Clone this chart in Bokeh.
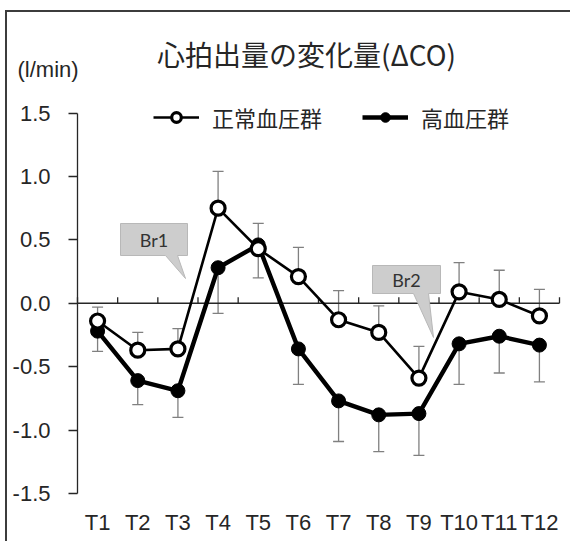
from bokeh.plotting import figure
from bokeh.models import (ColumnDataSource, FixedTicker, Label, Legend, LegendItem,
                          Whisker, TeeHead, Range1d, NumeralTickFormatter)
from bokeh.embed import file_html
from bokeh.resources import INLINE

# ---- data ----
categories = ["T1", "T2", "T3", "T4", "T5", "T6", "T7", "T8", "T9", "T10", "T11", "T12"]
normal_mean = [-0.14, -0.37, -0.36, 0.75, 0.43, 0.21, -0.13, -0.23, -0.59, 0.09, 0.03, -0.10]
normal_sd = [0.11, 0.14, 0.16, 0.29, 0.20, 0.23, 0.23, 0.21, 0.25, 0.23, 0.23, 0.21]
hyper_mean = [-0.22, -0.61, -0.69, 0.28, 0.46, -0.36, -0.77, -0.88, -0.87, -0.32, -0.26, -0.33]
hyper_sd = [0.16, 0.19, 0.21, 0.36, 0.26, 0.28, 0.32, 0.29, 0.33, 0.32, 0.29, 0.29]
y_ticks = [-1.5, -1.0, -0.5, 0.0, 0.5, 1.0, 1.5]
series_names = ["正常血圧群", "高血圧群"]
title_text = "心拍出量の変化量(ΔCO)"
unit_text = "(l/min)"
callout_texts = ["Br1", "Br2"]

xs = list(range(1, len(categories) + 1))
boundaries = [i + 0.5 for i in range(0, len(categories) + 1)]
YMIN, YMAX = y_ticks[0], y_ticks[-1]

src = ColumnDataSource(dict(
    x=xs,
    nm=normal_mean,
    nu=[m + s for m, s in zip(normal_mean, normal_sd)],
    hm=hyper_mean,
    hl=[m - s for m, s in zip(hyper_mean, hyper_sd)],
))

# ---- layout geometry (page pixels) ----
OX, OY = 7, 12            # page position of canvas origin
W, H = 565, 531
EXT = 16                  # frame extends this far below the YMIN tick
MB = 34
AX_L, AX_R = 77, 559      # page x of first / last category boundary
AX_T, AX_B = 112.5, 493   # page y of YMAX / YMIN
PPX = (AX_R - AX_L) / (boundaries[-1] - boundaries[0])
PPY = (AX_B - AX_T) / (YMAX - YMIN)
X0 = boundaries[0] - (AX_L - OX) / PPX
X1 = boundaries[0] + (OX + W - AX_L) / PPX
Y0 = YMIN - EXT / PPY
Y1 = YMAX + (AX_T - OY) / PPY

def dx(px):  # page x pixel -> data x
    return boundaries[0] + (px - AX_L) / PPX

def dy(py):  # page y pixel -> data y
    return YMAX - (py - AX_T) / PPY

p = figure(width=W, height=H, output_backend="svg", toolbar_location=None,
           x_range=Range1d(X0, X1), y_range=Range1d(Y0, Y1),
           min_border_left=0, min_border_right=0, min_border_top=0, min_border_bottom=MB)
p.styles = {"border-top": "2px solid #3c3c3c", "border-left": "2px solid #3c3c3c",
            "margin-left": "5px", "margin-top": "10px"}
p.outline_line_color = None
p.grid.visible = False
p.background_fill_color = "white"
p.border_fill_color = "white"

FONT = "Liberation Sans"
JFONT = "Noto Sans CJK JP"
TXT = "#262626"
AXC = "#262626"

# x axis (labels only, at bottom)
p.xaxis.ticker = FixedTicker(ticks=xs)
p.xaxis.major_label_overrides = {x: c for x, c in zip(xs, categories)}
p.xaxis.axis_line_color = None
p.xaxis.major_tick_line_color = None
p.xaxis.major_tick_out = 0
p.xaxis.major_tick_in = 0
p.xaxis.minor_tick_line_color = None
p.xaxis.major_label_standoff = 0
p.xaxis.major_label_text_font = FONT
p.xaxis.major_label_text_font_size = "22px"
p.xaxis.major_label_text_color = TXT

# y axis, fixed at first category boundary
p.yaxis.fixed_location = boundaries[0]
p.yaxis.bounds = (YMIN, YMAX)
p.yaxis.ticker = FixedTicker(ticks=y_ticks)
p.yaxis.formatter = NumeralTickFormatter(format="0.0")
p.yaxis.axis_line_color = AXC
p.yaxis.axis_line_width = 1.3
p.yaxis.major_tick_line_color = AXC
p.yaxis.major_tick_line_width = 1.3
p.yaxis.major_tick_out = 9
p.yaxis.major_tick_in = 0
p.yaxis.minor_tick_line_color = None
p.yaxis.major_label_standoff = 18
p.yaxis.major_label_text_font = FONT
p.yaxis.major_label_text_font_size = "22px"
p.yaxis.major_label_text_color = TXT

# zero line with category boundary ticks
p.segment(x0=[boundaries[0]], y0=[0], x1=[boundaries[-1]], y1=[0],
          line_color=AXC, line_width=1.3)
p.segment(x0=boundaries, y0=[0] * len(boundaries), x1=boundaries,
          y1=[6 / PPY] * len(boundaries), line_color=AXC, line_width=1.3)

# callouts (speech bubbles)
bubbles = [
    dict(box=(120, 187, 223, 255), base=(165, 177), tip=(185, 278)),
    dict(box=(372, 440, 265, 293), base=(413, 428), tip=(433, 337)),
]
for b, t in zip(bubbles, callout_texts):
    l, r, tp, bt = b["box"]
    b0, b1 = b["base"]
    tx, ty = b["tip"]
    pts = [(l, tp), (r, tp), (r, bt), (b1, bt), (tx, ty), (b0, bt), (l, bt)]
    p.patch([dx(x) for x, _ in pts], [dy(y) for _, y in pts],
            fill_color="#cdcdcd", line_color="#b8b8b8", line_width=1)
    p.add_layout(Label(x=dx((l + r) / 2), y=dy((tp + bt) / 2), text=t,
                       text_align="center", text_baseline="middle",
                       text_font="Lato", text_font_size="18px", text_color="#333333"))

# error bars
p.add_layout(Whisker(source=src, base="x", lower="nm", upper="nu", level="underlay",
                     line_color="#808080", line_width=1.3,
                     upper_head=TeeHead(size=11, line_color="#808080", line_width=1.3),
                     lower_head=None))
p.add_layout(Whisker(source=src, base="x", lower="hl", upper="hm", level="underlay",
                     line_color="#808080", line_width=1.3,
                     lower_head=TeeHead(size=11, line_color="#808080", line_width=1.3),
                     upper_head=None))

# series
nl = p.line("x", "nm", source=src, line_color="black", line_width=2.6)
hl = p.line("x", "hm", source=src, line_color="black", line_width=4.4)
hs = p.scatter("x", "hm", source=src, marker="circle", size=14,
               fill_color="black", line_color="black", line_width=1)
ns = p.scatter("x", "nm", source=src, marker="circle", size=14,
               fill_color="white", line_color="black", line_width=3.2)

legend = Legend(items=[LegendItem(label=series_names[0], renderers=[nl, ns]),
                       LegendItem(label=series_names[1], renderers=[hl, hs])],
                orientation="horizontal", location=(153 - OX, AX_B + EXT - 133),
                label_text_font=JFONT, label_text_font_size="22px", label_text_color=TXT,
                glyph_width=46, glyph_height=24, label_height=24,
                label_standoff=13, spacing=40,
                padding=0, margin=0, border_line_color=None, background_fill_alpha=0)
p.add_layout(legend, "center")

# title and unit
p.add_layout(Label(x=dx(306), y=dy(53), text=title_text,
                   text_align="center", text_baseline="middle",
                   text_font=JFONT, text_font_size="28px", text_color=TXT))
p.add_layout(Label(x=dx(17), y=dy(69), text=unit_text,
                   text_align="left", text_baseline="middle",
                   text_font=FONT, text_font_size="22px", text_color=TXT))

open("out.html", "w").write(file_html(p, INLINE))
